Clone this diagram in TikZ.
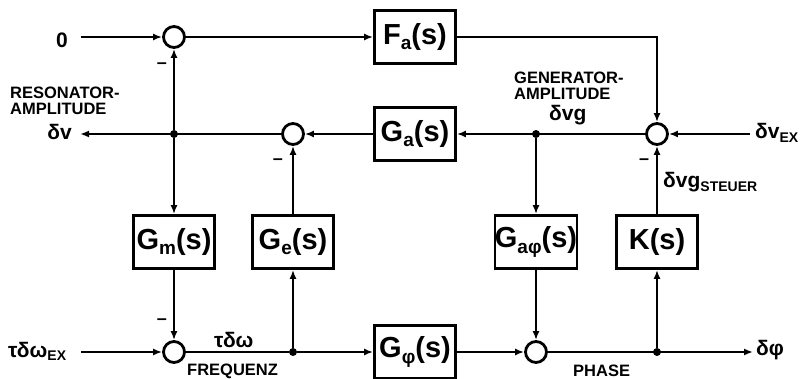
\documentclass[tikz,border=0pt]{standalone}
\usepackage{fontspec}
\setmainfont{Liberation Sans}
\usetikzlibrary{arrows.meta,positioning,calc}
\newcommand{\lowix}[1]{\raisebox{-0.35ex}{\fontsize{19}{19}\selectfont #1}}
\newcommand{\lowsm}[1]{\raisebox{-0.3ex}{\fontsize{14}{14}\selectfont #1}}

\tikzset{
  blk/.style={draw,line width=2.8pt,minimum width=81pt,minimum height=53pt,inner sep=0pt,font=\fontsize{29}{30}\selectfont\bfseries},
  summ/.style={draw,circle,line width=2.8pt,minimum size=21pt,inner sep=0pt},
  junc/.style={circle,fill,minimum size=8pt,inner sep=0pt},
  sig/.style={line width=2pt,-{Latex[length=9pt,width=7pt]}},
  wire/.style={line width=2pt},
  lbl/.style={font=\fontsize{16.5}{15.5}\selectfont\bfseries,inner sep=0pt},
  sym/.style={font=\fontsize{21}{21}\selectfont\bfseries,inner sep=0pt},
  neg/.style={font=\fontsize{18}{18}\selectfont\bfseries,inner sep=0pt},
}

\begin{document}
\begin{tikzpicture}[x=1pt,y=-1pt]
  \useasboundingbox (0,0) rectangle (800,379);
  % summing points
  \node[summ] (s1) at (174,37) {};
  \node[summ] (s2) at (293,134) {};
  \node[summ] (sR) at (657,134) {};
  \node[summ] (s3) at (174,352) {};
  \node[summ] (s4) at (536,352) {};
  % blocks
  \node[blk] (Fa) at (415,37) {F\lowix{a}(s)};
  \node[blk] (Ga) at (415,134) {G\lowix{a}(s)};
  \node[blk] (Gm) at (174,242) {G\lowix{m}(s)};
  \node[blk] (Ge) at (293,242) {G\lowix{e}(s)};
  \node[blk] (Gap) at (536,242) {G\lowix{aφ}(s)};
  \node[blk] (K) at (657,242) {K(s)};
  \node[blk] (Gphi) at (415,352) {G\lowix{φ}(s)};
  % branch points
  \node[junc] (j1) at (174,134) {};
  \node[junc] (j2) at (536,134) {};
  \node[junc] (j3) at (293,352) {};
  \node[junc] (j4) at (657,352) {};
  % free ends
  \coordinate (c0) at (81,37);
  \coordinate (cdv) at (80,134);
  \coordinate (cvex) at (750,134);
  \coordinate (ctw) at (81,352);
  \coordinate (cdp) at (753,352);

  \draw[sig] (c0) -- (s1);
  \draw[sig] (s1) -- (Fa);
  \draw[sig] (Fa) -| (sR);
  \draw[sig] (cvex) -- (sR);
  \draw[sig] (sR) -- (Ga);
  \draw[sig] (Ga) -- (s2);
  \draw[sig] (s2) -- (cdv);
  \draw[sig] (j1) -- (s1);
  \draw[sig] (j1) -- (Gm);
  \draw[sig] (Gm) -- (s3);
  \draw[sig] (ctw) -- (s3);
  \draw[wire] (s3) -- (j3);
  \draw[sig] (j3) -- (Gphi);
  \draw[sig] (j3) -- (Ge);
  \draw[sig] (Ge) -- (s2);
  \draw[sig] (Gphi) -- (s4);
  \draw[sig] (j2) -- (Gap);
  \draw[sig] (Gap) -- (s4);
  \draw[sig] (s4) -- (cdp);
  \draw[sig] (j4) -- (K);
  \draw[sig] (K) -- (sR);

  % signs
  \node[neg] (m1) at (162,66) {–};
  \node[neg] (m2) at (278,162) {–};
  \node[neg] (m3) at (644,162) {–};
  \node[neg] (m4) at (162,322) {–};

  % labels
  \node[sym] (tzero) at (62,40) {0};
  \node[lbl,anchor=north west,align=left] (tres) at (10,87) {RESONATOR-\\AMPLITUDE};
  \node[sym,anchor=base east] (tdv) at (72,140) {δv};
  \node[lbl,anchor=north west,align=left] (tgen) at (514,72) {GENERATOR-\\AMPLITUDE};
  \node[sym,anchor=base west] (tdvg) at (549,121) {δvg};
  \node[sym,anchor=base west] (tvex) at (755,139) {δv\lowsm{EX}};
  \node[sym,anchor=base west] (tst) at (663,188) {δvg\lowsm{STEUER}};
  \node[sym,anchor=base west] (ttw) at (8,357) {τδω\lowsm{EX}};
  \node[sym,anchor=base west] (ttdw) at (214,347) {τδω};
  \node[lbl,anchor=base west] (tfreq) at (187,375) {FREQUENZ};
  \node[lbl,anchor=base west] (tpha) at (573,376) {PHASE};
  \node[sym,anchor=base west] (tdp) at (756,355) {δφ};
\end{tikzpicture}
\end{document}
